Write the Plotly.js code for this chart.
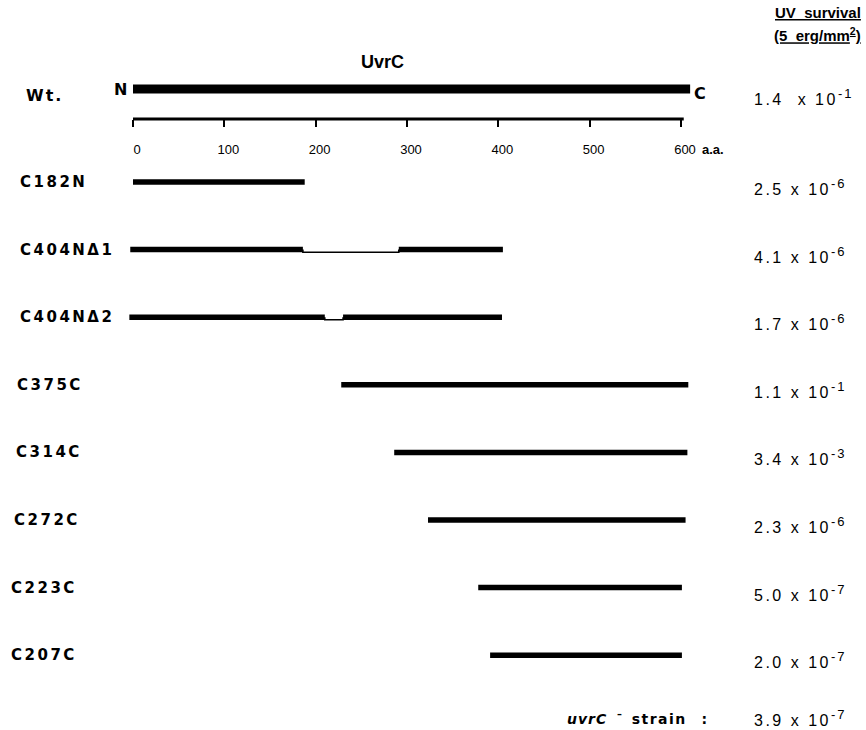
<!DOCTYPE html>
<html><head><meta charset="utf-8">
<script src="https://cdn.plot.ly/plotly-3.0.1.min.js"></script>
<style>html,body{margin:0;padding:0;background:#fff}</style>
</head><body><div id="chart" style="width:866px;height:730px"></div>
<script>
// ---- data ----
const constructs = ['C182N', 'C404N\u03941', 'C404N\u03942', 'C375C', 'C314C', 'C272C', 'C223C', 'C207C'];
const startAA = [0, -3, -4, 228, 286, 323, 378, 391];
const endAA = [188, 405, 404, 608, 607, 605, 601, 601];
const delStartAA = [null, 186, 210, null, null, null, null, null];
const delEndAA = [null, 291, 230, null, null, null, null, null];
const wtLength = 610;
const scaleEnd = 603;
const scaleTicks = [0, 100, 200, 300, 400, 500, 600];
const scaleTickText = ['0', '100', '200', '300', '400', '500', '600'];
const survivalMantissa = ['2.5', '4.1', '1.7', '1.1', '3.4', '2.3', '5.0', '2.0'];
const survivalExponent = ['-6', '-6', '-6', '-1', '-3', '-6', '-7', '-7'];
const wtMantissa = '1.4';
const wtExponent = '-1';
const strainMantissa = '3.9';
const strainExponent = '-7';

// ---- layout helpers ----
const W = 866, H = 730;
const rows = constructs.map((_, i) => i + 1);
const rowPx = 67.6, firstRowPx = 182;
const pxToRow = p => 1 + (p - firstRowPx) / rowPx;
const wtRow = pxToRow(89);
const strainRow = pxToRow(718);
const axisPx = 119;
const axisRow = pxToRow(axisPx);
const x0px = 133, aaPerPx = 600 / (681 - 133);
const xRange = [-x0px * aaPerPx, (W - x0px) * aaPerPx];
const yRange = [pxToRow(H), pxToRow(0)];
const stepOff = 2.6 / rowPx;
const FONT = 'Liberation Sans, Arial, Helvetica, sans-serif';
const HEAVY = 'DejaVu Sans, Liberation Sans, Arial, sans-serif';

const traces = [];
traces.push({x: [0, wtLength], y: [wtRow, wtRow], mode: 'lines', line: {color: '#000', width: 9}, hoverinfo: 'skip'});
traces.push({x: [0, scaleEnd], y: [axisRow, axisRow], mode: 'lines', line: {color: '#000', width: 3}, hoverinfo: 'skip'});

constructs.forEach((name, i) => {
  const r = rows[i];
  if (delStartAA[i] === null) {
    traces.push({x: [startAA[i], endAA[i]], y: [r, r], mode: 'lines', line: {color: '#000', width: 5.5}, name: name, hoverinfo: 'skip'});
  } else {
    traces.push({x: [startAA[i], delStartAA[i], null, delEndAA[i], endAA[i]], y: [r, r, null, r, r],
      mode: 'lines', line: {color: '#000', width: 5.5}, name: name, hoverinfo: 'skip'});
    traces.push({x: [delStartAA[i], delStartAA[i], delEndAA[i], delEndAA[i]], y: [r, r + stepOff, r + stepOff, r],
      mode: 'lines', line: {color: '#000', width: 1.6}, hoverinfo: 'skip'});
  }
});

const ls = (t, s) => '<span style="letter-spacing:' + s + 'px">' + t + '</span>';
const sup = (t) => '<sup><span style="font-size:13px;letter-spacing:2px">' + t + '</span></sup>';
const ann = [];
const labelLeftPx = [18, 18, 18, 15, 14, 12, 9, 9];
constructs.forEach((name, i) => {
  ann.push({xref: 'paper', yref: 'y', x: labelLeftPx[i] / W, y: rows[i], xanchor: 'left', yanchor: 'middle',
    text: ls(name, 2.5), showarrow: false, font: {family: HEAVY, size: 15, color: '#000', weight: 'bold'}});
  ann.push({xref: 'paper', yref: 'y', x: 752 / W, y: rows[i], yshift: -5, xanchor: 'left', yanchor: 'middle',
    text: ls(survivalMantissa[i] + ' x 10', 2.5) + sup(survivalExponent[i]), showarrow: false,
    font: {family: FONT, size: 16, color: '#000'}});
});
// Wt row
ann.push({xref: 'paper', yref: 'y', x: 24 / W, y: wtRow, yshift: -6, xanchor: 'left', yanchor: 'middle',
  text: ls('Wt.', 2), showarrow: false, font: {family: HEAVY, size: 16, color: '#000', weight: 'bold'}});
ann.push({xref: 'x', yref: 'y', x: 0, y: wtRow, xshift: -4, xanchor: 'right', yanchor: 'middle',
  text: 'N', showarrow: false, font: {family: HEAVY, size: 16, color: '#000', weight: 'bold'}});
ann.push({xref: 'x', yref: 'y', x: wtLength, y: wtRow, xshift: 2, yshift: -4, xanchor: 'left', yanchor: 'middle',
  text: 'C', showarrow: false, font: {family: HEAVY, size: 16, color: '#000', weight: 'bold'}});
ann.push({xref: 'paper', yref: 'y', x: 752 / W, y: wtRow, yshift: -8, xanchor: 'left', yanchor: 'middle',
  text: ls(wtMantissa + '  x 10', 2.5) + sup(wtExponent), showarrow: false,
  font: {family: FONT, size: 16, color: '#000'}});
// title & header
ann.push({xref: 'paper', yref: 'paper', x: 382 / W, y: 1 - 62 / H, xanchor: 'center', yanchor: 'middle',
  text: 'UvrC', showarrow: false, font: {family: FONT, size: 18, color: '#000', weight: 'bold'}});
ann.push({xref: 'paper', yref: 'paper', x: 863 / W, y: 1 - 13 / H, xanchor: 'right', yanchor: 'middle',
  text: '<u>UV  survival</u>', showarrow: false, font: {family: FONT, size: 15, color: '#000', weight: 'bold'}});
ann.push({xref: 'paper', yref: 'paper', x: 863 / W, y: 1 - 34 / H, xanchor: 'right', yanchor: 'middle',
  text: '<u>(5  erg/mm<sup>2</sup>)</u>', showarrow: false, font: {family: FONT, size: 15, color: '#000', weight: 'bold'}});
// scale unit
ann.push({xref: 'x', yref: 'paper', x: 600, y: 1 - 149 / H, xshift: 19, xanchor: 'left', yanchor: 'middle',
  text: 'a.a.', showarrow: false, font: {family: FONT, size: 13, color: '#000', weight: 'bold'}});
// uvrC- strain
ann.push({xref: 'paper', yref: 'y', x: 565 / W, y: strainRow, xanchor: 'left', yanchor: 'middle',
  text: '<i>' + ls('uvrC', 1) + '</i>  <sup>\u2013</sup>  ' + ls('strain', 1.5) + '   :', showarrow: false,
  font: {family: HEAVY, size: 14, color: '#000', weight: 'bold'}});
ann.push({xref: 'paper', yref: 'y', x: 752 / W, y: strainRow, xanchor: 'left', yanchor: 'middle',
  text: ls(strainMantissa + ' x 10', 2.5) + sup(strainExponent), showarrow: false,
  font: {family: FONT, size: 16, color: '#000'}});

const layout = {
  width: W, height: H,
  margin: {l: 0, r: 0, t: 0, b: 0, pad: 0},
  paper_bgcolor: '#fff', plot_bgcolor: '#fff',
  showlegend: false,
  xaxis: {range: xRange, showgrid: false, zeroline: false, showline: false,
    tickvals: scaleTicks, ticktext: scaleTickText, ticks: 'outside', ticklen: 7, tickwidth: 2, tickcolor: '#000',
    anchor: 'free', position: 1 - axisPx / H, ticklabelshift: 4, ticklabelstandoff: 11,
    tickfont: {family: FONT, size: 13, color: '#000'}, fixedrange: true},
  yaxis: {range: yRange, visible: false, fixedrange: true},
  annotations: ann
};
Plotly.newPlot('chart', traces, layout, {displayModeBar: false, staticPlot: true});
</script></body></html>
